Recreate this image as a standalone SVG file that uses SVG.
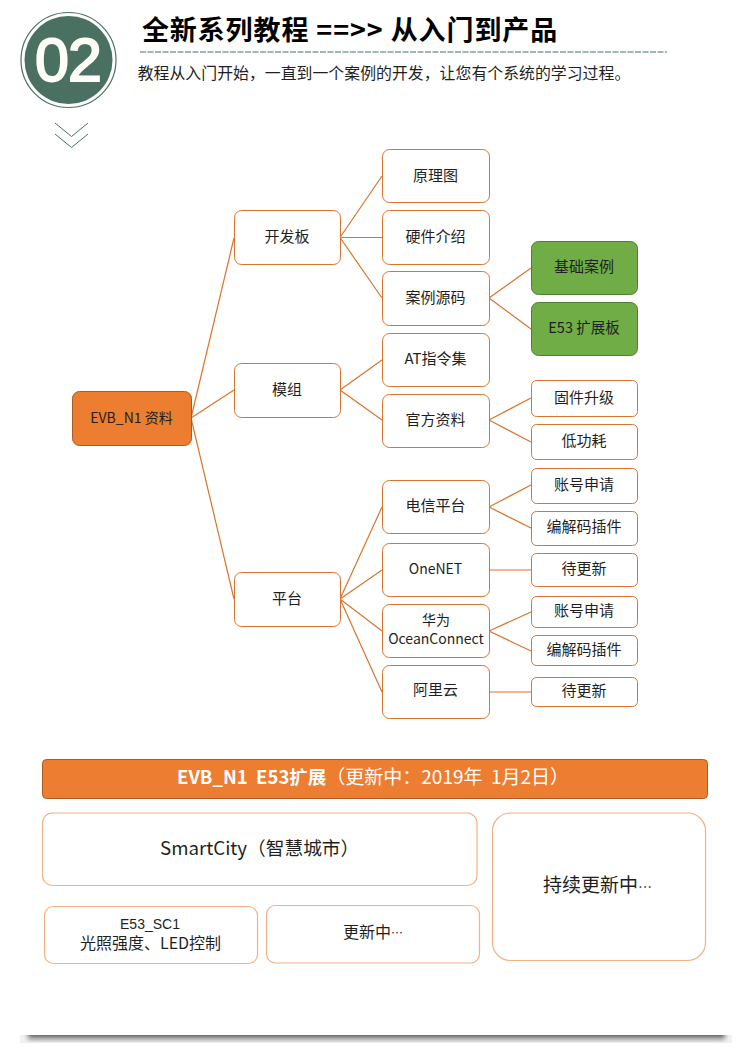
<svg xmlns="http://www.w3.org/2000/svg" width="750" height="1054" viewBox="0 0 750 1054">
<style>
text{font-family:"Noto Sans CJK SC","Noto Sans",sans-serif;font-weight:400;fill:#1f1f1f;text-anchor:middle;white-space:pre}
.l{font-size:15px}
.m{font-size:14px}
.s{text-anchor:start}
.n rect{fill:#fff;stroke:#d9752f;stroke-width:1}
.o rect{fill:#ed7d31;stroke:#ae5a21;stroke-width:1}
.g rect{fill:#70ad47;stroke:#507e32;stroke-width:1}
.p rect{fill:#fff;stroke:#f4b183;stroke-width:1.2}
#connectors path{fill:none;stroke:#d9752f;stroke-width:1.2}
</style>
<defs>
<linearGradient id="sh" x1="0" y1="0" x2="0" y2="1"><stop offset="0" stop-color="#6a6a6a"/><stop offset="0.45" stop-color="#b0aeac"/><stop offset="1" stop-color="#f6f4f3"/></linearGradient>
<filter id="bx" x="-2%" y="0" width="104%" height="100%"><feGaussianBlur stdDeviation="2.500 0"/></filter>
</defs>
<g id="header">
<circle cx="68.500" cy="60" r="47.500" fill="#fff" stroke="#4a7061" stroke-width="1.200"/>
<circle cx="68.500" cy="60" r="44" fill="#4a7061"/>
<text x="68" y="81" style="font-family:'Liberation Sans',sans-serif;font-size:61px;fill:#fffdf6;stroke:#fffdf6;stroke-width:2px;letter-spacing:-1px">02</text>
<path d="M55 123L71.500 136.500L88 123M55 134L71.500 147.500L88 134" fill="none" stroke="#4a7061" stroke-width="1"/>
<text x="350" y="40" style="font-size:27px;font-weight:700;fill:#000;letter-spacing:.9px">全新系列教程 ==&gt;&gt; 从入门到产品</text>
<path d="M140 52H667" stroke="#4a7061" stroke-width="1" stroke-dasharray="6 1.500"/>
<text x="384" y="79" style="font-size:15.900px">教程从入门开始，一直到一个案例的开发，让您有个系统的学习过程。</text>
</g>
<g id="connectors">
<path d="M191 418L234 238M191 418L234 390M191 418L234 599"/>
<path d="M340 237.500L382 176M340 237.500H382M340 237.500L382 298"/>
<path d="M340 390L382 360M340 390L382 420"/>
<path d="M340 599L382 507M340 599L382 570M340 599L382 631M340 599L382 692"/>
<path d="M489 298L531 268M489 298L531 329"/>
<path d="M489 420L531 398M489 420L531 442"/>
<path d="M489 507L531 485M489 507L531 528"/>
<path d="M489 570H531"/>
<path d="M489 631L531 612M489 631L531 651"/>
<path d="M489 692H531"/>
</g>
<g id="n-evb" class="o"><rect x="72.500" y="391.500" width="119" height="54" rx="7"/><text class="m" x="131.500" y="423">EVB_N1 资料</text></g>
<g id="n-board" class="n"><rect x="234.500" y="210.500" width="106" height="54" rx="7"/><text class="l" x="287" y="242">开发板</text></g>
<g id="n-module" class="n"><rect x="234.500" y="363.500" width="106" height="54" rx="7"/><text class="l" x="287" y="395">模组</text></g>
<g id="n-platform" class="n"><rect x="234.500" y="572.500" width="106" height="54" rx="7"/><text class="l" x="287" y="604">平台</text></g>
<g id="n-schematic" class="n"><rect x="382.500" y="149.500" width="107" height="53" rx="7"/><text class="l" x="435.500" y="181">原理图</text></g>
<g id="n-hw" class="n"><rect x="382.500" y="210.500" width="107" height="54" rx="7"/><text class="l" x="435.500" y="242">硬件介绍</text></g>
<g id="n-src" class="n"><rect x="382.500" y="271.500" width="107" height="54" rx="7"/><text class="l" x="435.500" y="303">案例源码</text></g>
<g id="n-at" class="n"><rect x="382.500" y="333.500" width="107" height="53" rx="7"/><text class="l" x="435.500" y="364">AT指令集</text></g>
<g id="n-official" class="n"><rect x="382.500" y="394.500" width="107" height="53" rx="7"/><text class="l" x="435.500" y="425">官方资料</text></g>
<g id="n-telecom" class="n"><rect x="382.500" y="480.500" width="107" height="53" rx="7"/><text class="l" x="435.500" y="511">电信平台</text></g>
<g id="n-onenet" class="n"><rect x="382.500" y="543.500" width="107" height="53" rx="7"/><text class="m" x="435.500" y="574">OneNET</text></g>
<g id="n-huawei" class="n"><rect x="382.500" y="604.500" width="107" height="53" rx="7"/><text class="m" x="436" y="625">华为</text><text class="m" x="436" y="644">OceanConnect</text></g>
<g id="n-ali" class="n"><rect x="382.500" y="665.500" width="107" height="53" rx="7"/><text class="l" x="435.500" y="695">阿里云</text></g>
<g id="n-basic" class="g"><rect x="531.500" y="241.500" width="106" height="53" rx="7"/><text class="l" x="584" y="272">基础案例</text></g>
<g id="n-e53" class="g"><rect x="531.500" y="302.500" width="106" height="53" rx="7"/><text class="m" x="584" y="333" style="font-size:14.500px">E53 扩展板</text></g>
<g id="n-fw" class="n"><rect x="531.500" y="380.500" width="106" height="36" rx="5"/><text class="l" x="584" y="403">固件升级</text></g>
<g id="n-lp" class="n"><rect x="531.500" y="424.500" width="106" height="35" rx="5"/><text class="l" x="584" y="446">低功耗</text></g>
<g id="n-acc1" class="n"><rect x="531.500" y="468.500" width="106" height="35" rx="5"/><text class="l" x="584" y="490">账号申请</text></g>
<g id="n-codec1" class="n"><rect x="531.500" y="511.500" width="106" height="34" rx="5"/><text class="l" x="584" y="532">编解码插件</text></g>
<g id="n-wait1" class="n"><rect x="531.500" y="553.500" width="106" height="33" rx="5"/><text class="l" x="584" y="574">待更新</text></g>
<g id="n-acc2" class="n"><rect x="531.500" y="596.500" width="106" height="31" rx="5"/><text class="l" x="584" y="616">账号申请</text></g>
<g id="n-codec2" class="n"><rect x="531.500" y="635.500" width="106" height="30" rx="5"/><text class="l" x="584" y="655">编解码插件</text></g>
<g id="n-wait2" class="n"><rect x="531.500" y="677.500" width="106" height="29" rx="5"/><text class="l" x="584" y="696">待更新</text></g>
<g id="n-banner" class="o"><rect x="42.500" y="759.500" width="665" height="39" rx="4"/><text class="s" x="177" y="784" style="font-size:19px;fill:#fff"><tspan style="font-weight:700;font-size:18.500px">EVB_N1  E53扩展</tspan>（更新中：2019年  1月2日）</text></g>
<g id="n-smart" class="p"><rect x="42.500" y="813" width="434.500" height="72.500" rx="10"/><text class="s" x="160" y="855" style="font-size:18.700px">SmartCity（智慧城市）</text></g>
<g id="n-sc1" class="p"><rect x="44.500" y="906.500" width="213" height="57" rx="9"/><text x="150" y="929" style="font-family:'Liberation Sans',sans-serif;font-size:14px">E53_SC1</text><text x="150.500" y="949" style="font-size:16px">光照强度、LED控制</text></g>
<g id="n-upd" class="p"><rect x="266.500" y="905.500" width="213" height="57.500" rx="9"/><text class="s" x="343" y="938" style="font-size:16px">更新中<tspan style="font-size:12px">…</tspan></text></g>
<g id="n-more" class="p"><rect x="492.500" y="813" width="213" height="147.500" rx="18"/><text class="s" x="543" y="892" style="font-size:19px">持续更新中<tspan style="font-size:14px">…</tspan></text></g>
<g id="bottom-shadow"><rect x="20" y="1035" width="712" height="8" fill="#f4f2f1"/><rect x="28" y="1035" width="697" height="8" fill="url(#sh)" filter="url(#bx)"/></g>
</svg>
